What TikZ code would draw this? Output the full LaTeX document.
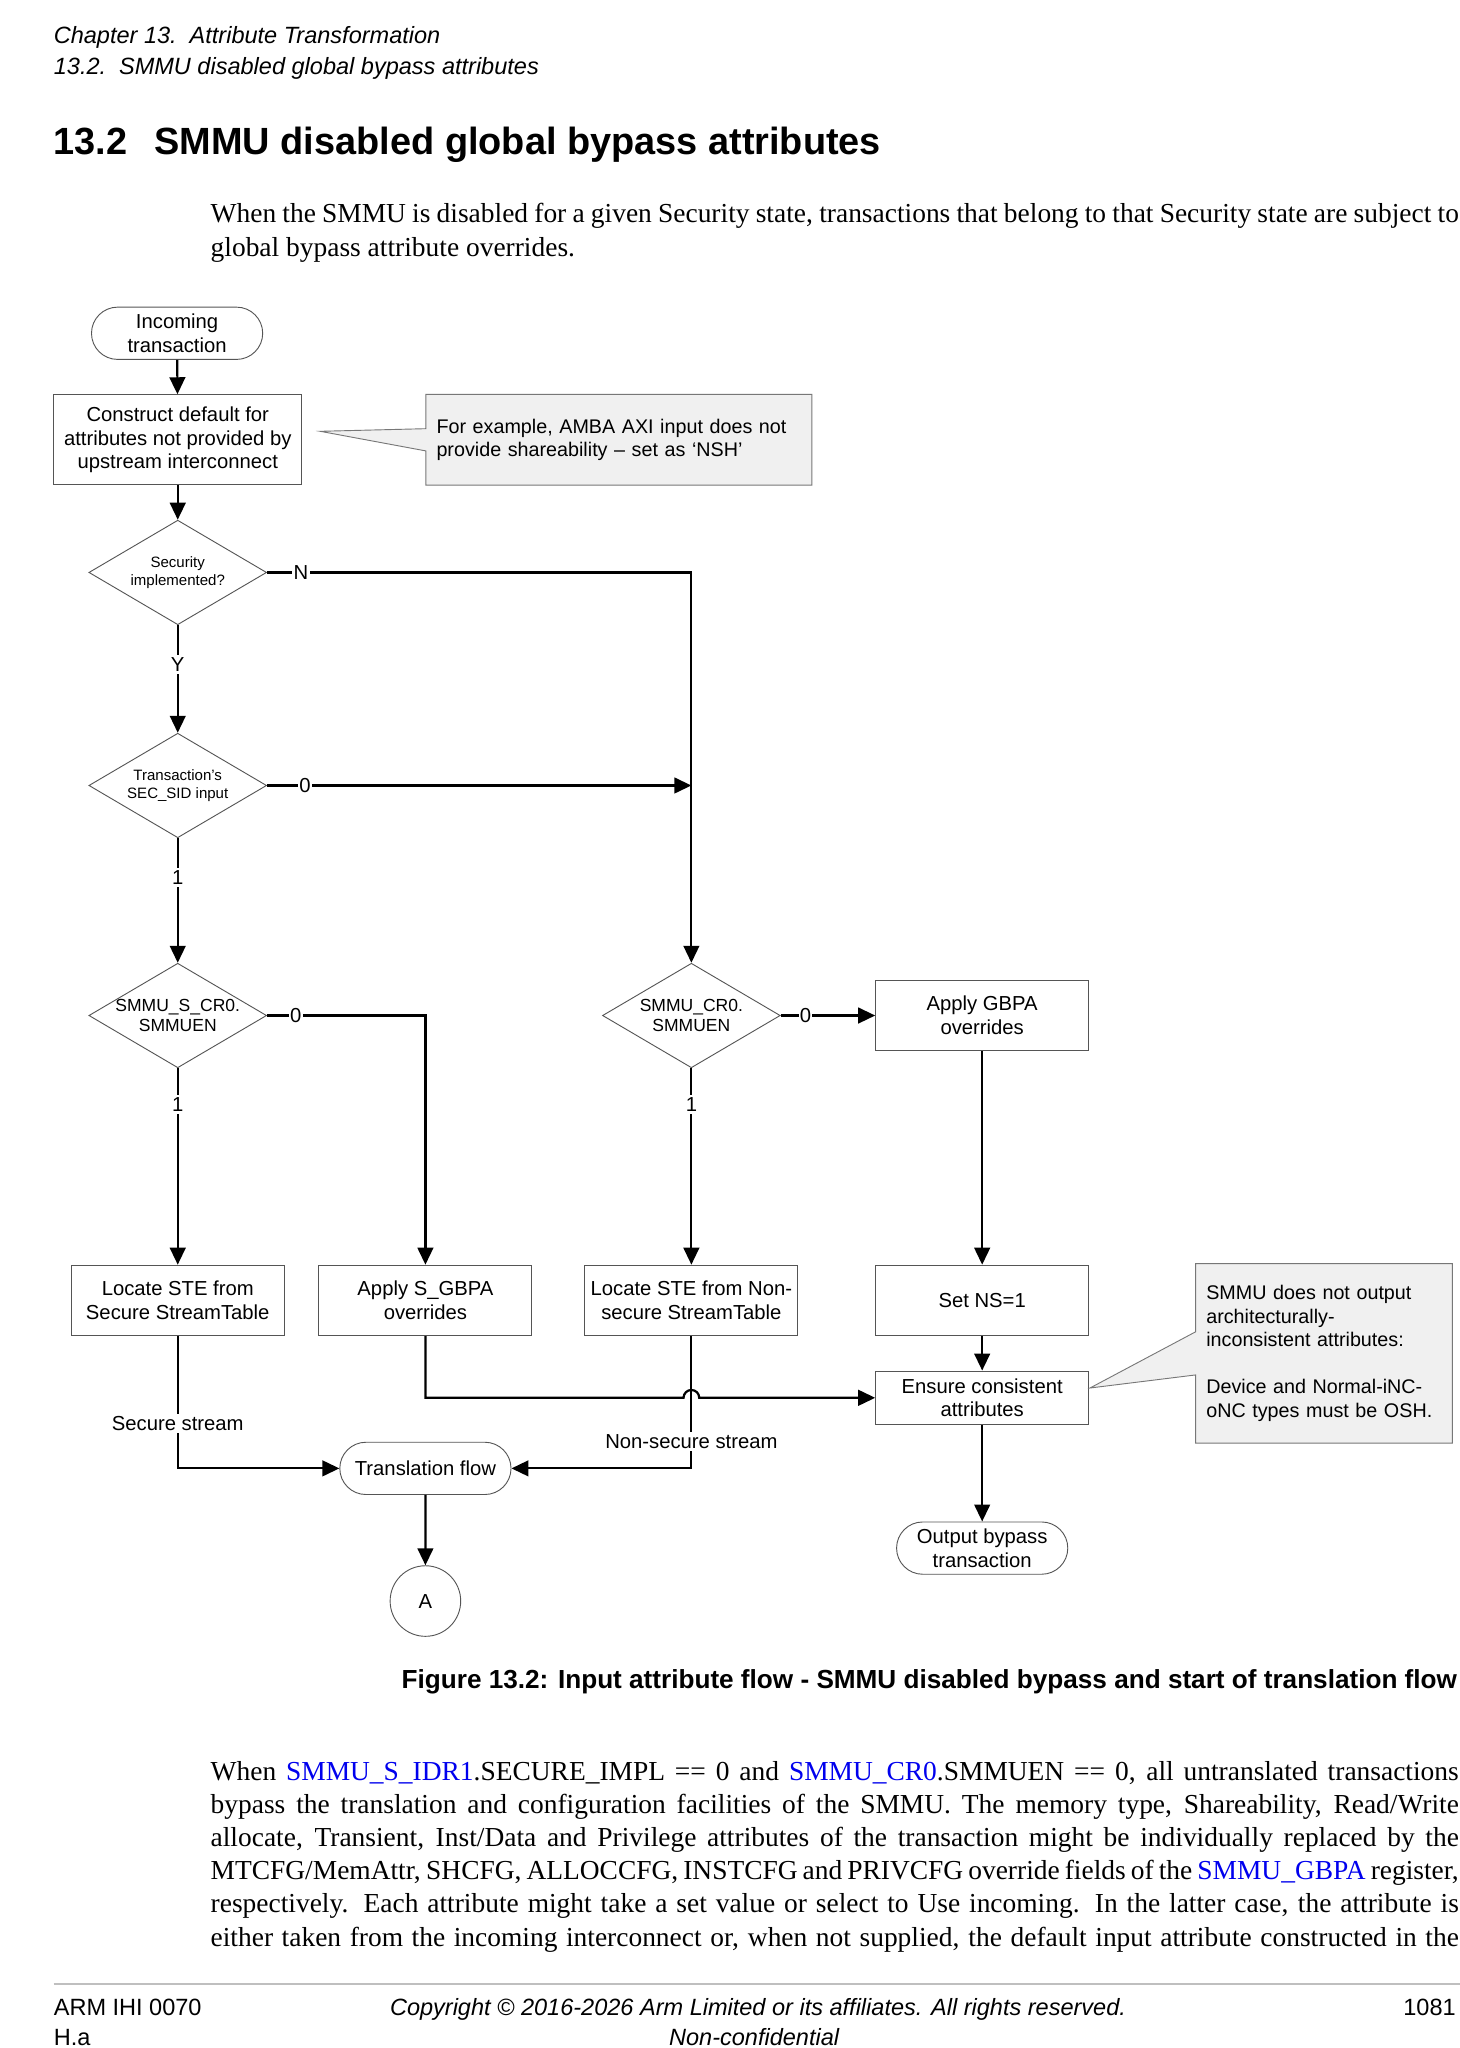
\documentclass[tikz,border=0pt]{standalone}
\usepackage{fontspec}
\setmainfont{Liberation Serif}
\setsansfont{Liberation Sans}
\usetikzlibrary{shapes.geometric,shapes.misc,arrows.meta,calc}
\definecolor{linkblue}{HTML}{0000EE}
\definecolor{callgray}{HTML}{F0F0F0}
\definecolor{edgegray}{HTML}{555555}
\newcommand\dgf{\sffamily\fontsize{15.5}{18}\selectfont}
\newcommand\dcf{\sffamily\fontsize{15.1}{18}\selectfont}
\newcommand\dsm{\sffamily\fontsize{11.5}{14}\selectfont}
\newcommand\dmd{\sffamily\fontsize{13.4}{15}\selectfont}
\newcommand\bodyf{\rmfamily\fontsize{21}{25.4}\selectfont}
\newcommand\jline[1]{\makebox[955pt][s]{#1}}
\newcommand\lk[1]{\textcolor{linkblue}{#1}}
\begin{document}
\begin{tikzpicture}[x=1pt,y=-1pt,
  box/.style={draw=edgegray,line width=0.7pt,minimum width=163pt,minimum height=54pt,align=center,font=\dgf,inner sep=3pt},
  term/.style={rounded rectangle,draw=edgegray,line width=0.7pt,minimum width=135pt,minimum height=40pt,align=center,font=\dgf,inner sep=2pt},
  dec/.style={diamond,draw=edgegray,line width=0.7pt,minimum width=136pt,minimum height=80pt,inner sep=0pt},
  calltext/.style={align=left,font=\dcf,inner xsep=8pt,inner ysep=0pt},
  callout/.style={draw=edgegray!80,fill=callgray,line width=0.7pt},
  arr/.style={draw=black,line width=1.7pt,-{Triangle[length=13pt,width=12pt]}},
  lin/.style={draw=black,line width=1.7pt},
  lbl/.style={fill=white,inner xsep=1pt,inner ysep=2pt,font=\dgf},
  txt/.style={inner sep=0pt}
]
\useasboundingbox (0,0) rectangle (1117,1567);
\fill[white] (0,0) rectangle (1117,1567);

% page header
\node[txt,anchor=base west,font=\sffamily\itshape\fontsize{18}{22}\selectfont] (h1) at (41,33) {Chapter 13.\hspace{0.55em}Attribute Transformation};
\node[txt,anchor=base west,font=\sffamily\itshape\fontsize{18}{22}\selectfont] (h2) at (41,57) {13.2.\hspace{0.55em}SMMU disabled global bypass attributes};
\node[txt,anchor=base west,font=\sffamily\bfseries\fontsize{29}{34}\selectfont] (t1) at (41,118) {13.2};
\node[txt,anchor=base west,font=\sffamily\bfseries\fontsize{29}{34}\selectfont] (t2) at (118,118) {SMMU disabled global bypass attributes};
\node[txt,anchor=base west,font=\bodyf] (p1a) at (161,170) {\jline{When the SMMU is disabled for a given Security state, transactions that belong to that Security state are subject to}};
\node[txt,anchor=base west,font=\bodyf] (p1b) at (161,196) {global bypass attribute overrides.};

% flow nodes
\node[term] (inc) at (135.5,255) {Incoming\\transaction};
\node[box,minimum width=190pt,minimum height=69pt] (cons) at (136,336.5) {Construct default for\\attributes not provided by\\upstream interconnect};
\node[calltext,minimum width=295pt,minimum height=69pt,text width=279pt] (c1) at (473.5,336.5) {};

\node[dec,label={[font=\dsm,align=center]center:Security\\implemented?}] (d1) at (136,438) {};
\node[dec,label={[font=\dsm,align=center]center:Transaction’s\\SEC\_SID input}] (d2) at (136,601) {};
\node[dec,label={[font=\dmd,align=center]center:SMMU\_S\_CR0.\\SMMUEN}] (d3) at (136,777) {};
\node[dec,label={[font=\dmd,align=center]center:SMMU\_CR0.\\SMMUEN}] (d4) at (529,777) {};

\node[box] (gbpa) at (751.5,777) {Apply GBPA\\overrides};
\node[box] (lsec) at (136,995) {Locate STE from\\Secure StreamTable};
\node[box] (sgbpa) at (325.5,995) {Apply S\_GBPA\\overrides};
\node[box] (lns) at (529,995) {Locate STE from Non-\\secure StreamTable};
\node[box] (setns) at (751.5,995) {Set NS=1};
\node[box,minimum height=41pt] (ens) at (751.5,1069.5) {Ensure consistent\\attributes};
\node[term] (outb) at (751.5,1184.5) {Output bypass\\transaction};
\node[term] (tf) at (325.5,1123.5) {Translation flow};
\node[circle,draw=edgegray,line width=0.7pt,minimum size=54pt,font=\dgf,inner sep=0pt] (A) at (325.5,1225) {A};

\node[calltext,minimum width=196pt,minimum height=137pt,text width=180pt] (c2) at (1013,1035.5) {};

% callout outlines
\coordinate (tip1) at (245,330);
\coordinate (tip2) at (834,1062);
\path[callout] (c1.north west) -- (c1.north east) -- (c1.south east) -- (c1.south west) -- (c1.south west |- 0,345) -- (tip1) -- (c1.north west |- 0,328) -- cycle;
\path[callout] (c2.north west) -- (c2.north east) -- (c2.south east) -- (c2.south west) -- (c2.south west |- 0,1052) -- (tip2) -- (c2.north west |- 0,1019) -- cycle;
\node[calltext,minimum width=295pt,minimum height=69pt,text width=279pt] (c1t) at (c1) {For example, AMBA AXI input does not\\provide shareability – set as ‘NSH’};
\node[calltext,minimum width=196pt,minimum height=137pt,text width=180pt] (c2t) at (c2) {SMMU does not output\\architecturally-\\inconsistent attributes:\\[18pt]Device and Normal-iNC-\\oNC types must be OSH.};

% connectors
\draw[arr] (inc) -- (cons);
\draw[arr] (cons) -- (d1);
\draw[arr] (d1.east) -| (d4.north);
\node[lbl] (lN) at ([xshift=26pt]d1.east) {N};
\draw[arr] (d1.south) -- (d2.north);
\node[lbl] (lY) at ([yshift=-30pt]d1.south) {Y};
\draw[arr] (d2.east) -- (d2.east -| d4.north);
\node[lbl] (l0a) at ([xshift=29pt]d2.east) {0};
\draw[arr] (d2.south) -- (d3.north);
\node[lbl] (l1a) at ([yshift=-30pt]d2.south) {1};
\draw[arr] (d3.east) -| (sgbpa.north);
\node[lbl] (l0b) at ([xshift=22pt]d3.east) {0};
\draw[arr] (d3.south) -- (lsec.north);
\node[lbl] (l1b) at ([yshift=-28pt]d3.south) {1};
\draw[arr] (d4.east) -- (gbpa.west);
\node[lbl] (l0c) at ([xshift=19pt]d4.east) {0};
\draw[arr] (d4.south) -- (lns.north);
\node[lbl] (l1c) at ([yshift=-28pt]d4.south) {1};
\draw[arr] (gbpa) -- (setns);
\draw[arr] (setns) -- (ens);
\draw[arr] (ens) -- (outb);
\draw[arr] (lsec.south) |- (tf.west);
\node[lbl] (lss) at (136,1089) {Secure stream};
\draw[arr] (lns.south) |- (tf.east);
\node[lbl] (lnss) at (529,1103) {Non-secure stream};
\draw[arr] (sgbpa.south) -- (sgbpa.south |- ens.west) -- ([xshift=-6pt]lns.south |- ens.west) arc[start angle=180,end angle=0,radius=6pt] -- (ens.west);
\draw[arr] (tf) -- (A);

% caption
\node[txt,anchor=base east,font=\sffamily\bfseries\fontsize{20}{24}\selectfont] (cap) at (1115,1292) {Figure 13.2: Input attribute flow - SMMU disabled bypass and start of translation flow};

% body paragraph 2
\node[txt,anchor=base west,font=\bodyf] (q1) at (161,1362) {\jline{When \lk{SMMU\_S\_IDR1}.SECURE\_IMPL == 0 and \lk{SMMU\_CR0}.SMMUEN == 0, all untranslated transactions}};
\node[txt,anchor=base west,font=\bodyf] (q2) at (161,1387.4) {\jline{bypass the translation and configuration facilities of the SMMU. The memory type, Shareability, Read/Write}};
\node[txt,anchor=base west,font=\bodyf] (q3) at (161,1412.8) {\jline{allocate, Transient, Inst/Data and Privilege attributes of the transaction might be individually replaced by the}};
\node[txt,anchor=base west,font=\bodyf] (q4) at (161,1438.2) {\jline{MTCFG/MemAttr, SHCFG, ALLOCCFG, INSTCFG and PRIVCFG override fields of the \lk{SMMU\_GBPA} register,}};
\node[txt,anchor=base west,font=\bodyf] (q5) at (161,1463.6) {\jline{respectively. Each attribute might take a set value or select to Use incoming. In the latter case, the attribute is}};
\node[txt,anchor=base west,font=\bodyf] (q6) at (161,1489) {\jline{either taken from the incoming interconnect or, when not supplied, the default input attribute constructed in the}};

% footer
\draw[black!25,line width=0.8pt] (41,1518) -- (1117,1518);
\node[txt,anchor=base west,font=\sffamily\fontsize{18}{22}\selectfont] (f1) at (41,1542) {ARM IHI 0070};
\node[txt,anchor=base west,font=\sffamily\fontsize{18}{22}\selectfont] (f2) at (41,1565) {H.a};
\node[txt,anchor=base,font=\sffamily\itshape\fontsize{18}{22}\selectfont] (f3) at (580,1542) {Copyright © 2016-2026 Arm Limited or its affiliates. All rights reserved.};
\node[txt,anchor=base,font=\sffamily\itshape\fontsize{18}{22}\selectfont] (f4) at (577,1565) {Non-confidential};
\node[txt,anchor=base east,font=\sffamily\fontsize{18}{22}\selectfont] (f5) at (1114,1542) {1081};
\end{tikzpicture}
\end{document}
